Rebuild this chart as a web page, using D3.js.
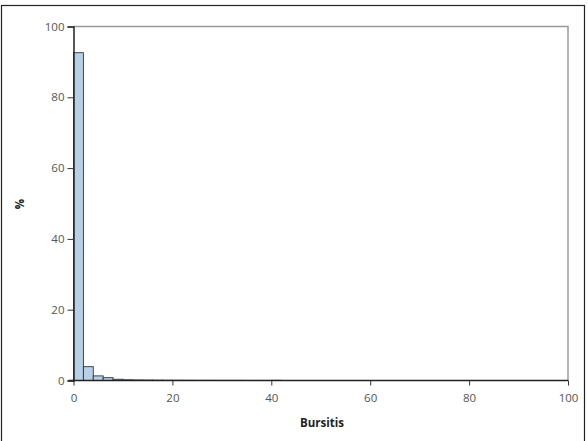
<!DOCTYPE html>
<html><head><meta charset="utf-8">
<script src="https://cdn.jsdelivr.net/npm/d3@7"></script>
<style>body{margin:0;background:#fff}svg{display:block}</style>
</head><body>
<svg id="c" width="588" height="441"></svg>
<script>
const binStarts = [0,2,4,6,8,10,12,14,16,18,20,22,24,26,28,30,32,34,36,38,40];
const percents  = [92.6,3.9,1.3,0.8,0.35,0.2,0.15,0.12,0.1,0.08,0.07,0.06,0.05,0.05,0.04,0.04,0.04,0.03,0.03,0.03,0.06];
const binWidth = 2;
const xTicks = [0,20,40,60,80,100];
const yTicks = [0,20,40,60,80,100];
const xLabel = "Bursitis";
const yLabel = "%";

const svg = d3.select("#c");
const m = {l:73.5, r:568, t:26.5, b:380.5};
const x = d3.scaleLinear().domain([0,100]).range([m.l,m.r]);
const y = d3.scaleLinear().domain([0,100]).range([m.b,m.t]);

svg.append("rect").attr("x",1.5).attr("y",5.5).attr("width",583).attr("height",440)
  .attr("fill","none").attr("stroke","#222").attr("stroke-width",1.2);

svg.append("path").attr("d",`M${m.l},${m.t}H${m.r}V${m.b}`).attr("fill","none")
  .attr("stroke","#999").attr("stroke-width",1.5);

svg.append("g").selectAll("rect").data(binStarts).join("rect")
  .attr("x",(d)=>x(d)).attr("width",(d)=>x(d+binWidth)-x(d))
  .attr("y",(d,i)=>y(percents[i])).attr("height",(d,i)=>y(0)-y(percents[i]))
  .attr("fill","#b8cfe8").attr("stroke","#333").attr("stroke-width",0.9);

const font = "'Open Sans', 'Noto Sans', sans-serif";
const xAxis = svg.append("g").attr("transform",`translate(0,${m.b})`)
  .call(d3.axisBottom(x).tickValues(xTicks).tickSize(5).tickPadding(8));
const yAxis = svg.append("g").attr("transform",`translate(${m.l},0)`)
  .call(d3.axisLeft(y).tickValues(yTicks).tickSize(6).tickPadding(3));
[xAxis,yAxis].forEach(a=>{
  a.select(".domain").attr("stroke","#222").attr("stroke-width",1.5);
  a.selectAll(".tick line").attr("stroke","#333");
  a.selectAll("text").attr("font-family",font).attr("font-size",11.5).attr("fill","#555");
});
xAxis.select(".domain").attr("d",`M${m.l-5},0H${m.r}`);

svg.append("text").attr("x",322).attr("y",427).attr("text-anchor","middle")
  .attr("font-family",font).attr("font-weight","bold").attr("font-size",11.5).attr("fill","#222").text(xLabel);
svg.append("text").attr("transform","translate(24,204) rotate(-90)").attr("text-anchor","middle")
  .attr("font-family",font).attr("font-weight","bold").attr("font-size",11.5).attr("fill","#222").text(yLabel);
</script>
</body></html>
